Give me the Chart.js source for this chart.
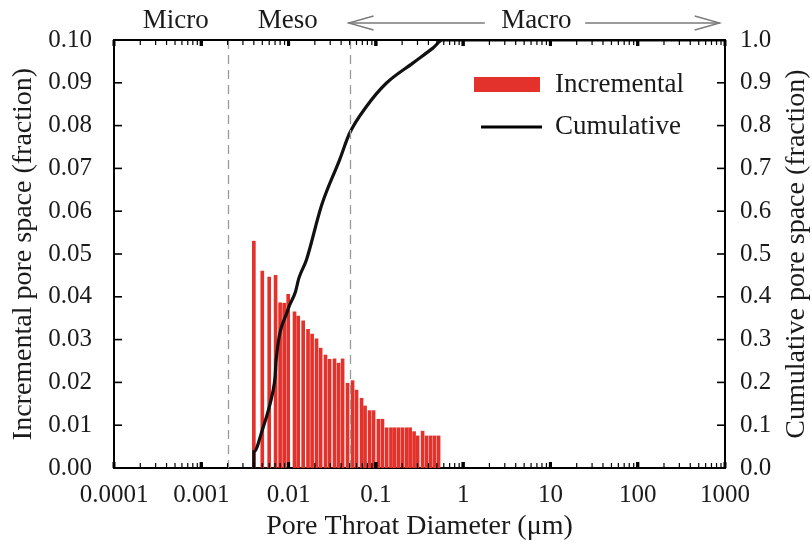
<!DOCTYPE html>
<html><head><meta charset="utf-8">
<script src="https://cdn.jsdelivr.net/npm/chart.js@4"></script>
<style>html,body{margin:0;padding:0;background:#fff;}canvas{display:block;}</style>
</head><body>
<canvas id="c" width="812" height="548"></canvas>
<script>
// ---- data ----
const barDiameters = [0.0040,0.0050,0.0060,0.0071,0.0080,0.0089,0.0099,0.0117,0.0129,0.0147,0.0167,0.0186,0.0209,0.0233,0.0265,0.0295,0.0336,0.0374,0.0416,0.0474,0.0541,0.0601,0.0686,0.0752,0.0847,0.0942,0.107,0.119,0.133,0.149,0.164,0.182,0.202,0.225,0.247,0.274,0.301,0.343,0.381,0.424,0.470,0.523];
const incrementalValues = [0.053,0.046,0.0446,0.045,0.0386,0.0385,0.0406,0.0365,0.0355,0.0344,0.0324,0.0313,0.0302,0.028,0.0264,0.0254,0.0255,0.0245,0.0255,0.0198,0.0204,0.0182,0.0163,0.0145,0.0134,0.0134,0.0114,0.0114,0.0094,0.0094,0.0094,0.0094,0.0094,0.0094,0.0094,0.0085,0.0075,0.0086,0.0075,0.0075,0.0075,0.0075];
const cumulativeDiameters = [0.0040,0.0040,0.0050,0.0066,0.0070,0.0072,0.0098,0.0120,0.0131,0.0160,0.0239,0.0384,0.050,0.0776,0.1315,0.265,0.450,0.585,1000];
const cumulativeValues = [0,0.038,0.089,0.178,0.212,0.252,0.369,0.412,0.443,0.486,0.614,0.72,0.782,0.844,0.899,0.946,0.981,1.0,1.0];
const xTickValues = [0.0001,0.001,0.01,0.1,1,10,100,1000];
const xTickLabels = ['0.0001','0.001','0.01','0.1','1','10','100','1000'];
const leftTickValues = [0,0.01,0.02,0.03,0.04,0.05,0.06,0.07,0.08,0.09,0.10];
const leftTickLabels = ['0.00','0.01','0.02','0.03','0.04','0.05','0.06','0.07','0.08','0.09','0.10'];
const rightTickValues = [0,0.1,0.2,0.3,0.4,0.5,0.6,0.7,0.8,0.9,1.0];
const rightTickLabels = ['0.0','0.1','0.2','0.3','0.4','0.5','0.6','0.7','0.8','0.9','1.0'];
const poreClassBounds = [0.002, 0.05];
const poreClassLabels = ['Micro','Meso','Macro'];
const poreClassLabelAt = [0.00051, 0.0098, 6.9];
const seriesNames = ['Incremental','Cumulative'];
const xTitle = 'Pore Throat Diameter (\u03bcm)';
const yTitle = 'Incremental pore space (fraction)';
const y2Title = 'Cumulative pore space (fraction)';

// ---- styles ----
const FONT = '"Liberation Serif","Times New Roman",serif';
const RED = '#e3322b';
const INK = '#1a1a1a';

const decor = {
  id: 'decor',
  afterDatasetsDraw(chart) {
    const {ctx, chartArea: a, scales: {x, y, y2}} = chart;
    ctx.save();
    // dashed boundaries
    ctx.strokeStyle = '#9a9a9a'; ctx.lineWidth = 1.3; ctx.setLineDash([9,6]);
    poreClassBounds.forEach(b => {
      const px = Math.round(x.getPixelForValue(b)) + 0.5;
      ctx.beginPath(); ctx.moveTo(px, a.top); ctx.lineTo(px, a.bottom); ctx.stroke();
    });
    ctx.setLineDash([]);
    ctx.restore();
  },
  afterDraw(chart) {
    const {ctx, chartArea: a, scales: {x, y, y2}} = chart;
    ctx.save();
    // top frame line
    ctx.strokeStyle = '#000'; ctx.lineWidth = 2;
    ctx.beginPath(); ctx.moveTo(a.left - 1, a.top); ctx.lineTo(a.right + 1, a.top); ctx.stroke();
    // log ticks top & bottom
    for (let d = -4; d < 3; d++) {
      for (let k = 1; k <= 10; k++) {
        const v = k * Math.pow(10, d);
        const px = x.getPixelForValue(v);
        const major = (k === 1 || k === 10);
        ctx.lineWidth = major ? 3 : 1.2;
        const len = major ? 6 : 5;
        ctx.beginPath(); ctx.moveTo(px, a.bottom); ctx.lineTo(px, a.bottom - len); ctx.stroke();
        ctx.beginPath(); ctx.moveTo(px, a.top); ctx.lineTo(px, a.top + len); ctx.stroke();
      }
    }
    // y ticks
    ctx.lineWidth = 1.6;
    leftTickValues.forEach(v => {
      const py = y.getPixelForValue(v);
      ctx.beginPath(); ctx.moveTo(a.left, py); ctx.lineTo(a.left + 8, py); ctx.stroke();
    });
    rightTickValues.forEach(v => {
      const py = y2.getPixelForValue(v);
      ctx.beginPath(); ctx.moveTo(a.right, py); ctx.lineTo(a.right - 8, py); ctx.stroke();
    });
    // pore class labels & arrows
    ctx.fillStyle = INK;
    ctx.font = '27px ' + FONT;
    ctx.textAlign = 'center'; ctx.textBaseline = 'alphabetic';
    poreClassLabels.forEach((t, i) => ctx.fillText(t, x.getPixelForValue(poreClassLabelAt[i]), 28));
    ctx.strokeStyle = '#7a7a7a'; ctx.lineWidth = 1.3;
    const arrow = (x1, x2, yy) => {
      const dir = Math.sign(x2 - x1);
      ctx.beginPath(); ctx.moveTo(x1, yy); ctx.lineTo(x2, yy); ctx.stroke();
      ctx.beginPath();
      ctx.moveTo(x2 - dir * 25, yy - 7); ctx.lineTo(x2, yy); ctx.lineTo(x2 - dir * 25, yy + 7);
      ctx.stroke();
    };
    arrow(x.getPixelForValue(1.77), x.getPixelForValue(poreClassBounds[1]) - 1, 23);
    arrow(x.getPixelForValue(25), x.getPixelForValue(870), 23);
    // legend
    ctx.fillStyle = RED;
    ctx.fillRect(474, 77, 66, 15);
    ctx.strokeStyle = '#000'; ctx.lineWidth = 3.2;
    ctx.beginPath(); ctx.moveTo(481, 127); ctx.lineTo(542, 127); ctx.stroke();
    ctx.fillStyle = INK; ctx.font = '27px ' + FONT;
    ctx.textAlign = 'left'; ctx.textBaseline = 'middle';
    ctx.fillText(seriesNames[0], 555, 85);
    ctx.fillText(seriesNames[1], 555, 127);
    // right title (reads bottom to top)
    ctx.save();
    ctx.translate(797, (a.top + a.bottom) / 2);
    ctx.rotate(-Math.PI / 2);
    ctx.textAlign = 'center'; ctx.textBaseline = 'middle';
    ctx.font = '28px ' + FONT;
    ctx.fillText(y2Title, 0, 0);
    ctx.restore();
    ctx.restore();
  }
};

new Chart(document.getElementById('c'), {
  type: 'bar',
  data: {
    datasets: [
      {
        type: 'line', label: seriesNames[1], yAxisID: 'y2', order: 0,
        data: cumulativeDiameters.map((d, i) => ({x: d, y: cumulativeValues[i]})),
        borderColor: '#111', borderWidth: 3.2, pointRadius: 0, tension: 0,
        cubicInterpolationMode: 'monotone', fill: false
      },
      {
        type: 'bar', label: seriesNames[0], yAxisID: 'y', order: 1,
        data: barDiameters.map((d, i) => ({x: d, y: incrementalValues[i]})),
        backgroundColor: RED, borderWidth: 0, barThickness: 3
      }
    ]
  },
  options: {
    responsive: false, animation: false, devicePixelRatio: 1,
    layout: {padding: {top: 40, left: 0, right: 0, bottom: 0}},
    plugins: {legend: {display: false}, tooltip: {enabled: false}},
    scales: {
      x: {
        type: 'logarithmic', position: 'bottom', min: 0.0001, max: 1000, offset: false,
        grid: {display: false, drawTicks: false},
        border: {display: true, color: '#000', width: 2},
        afterBuildTicks: s => { s.ticks = xTickValues.map(v => ({value: v, major: true})); },
        afterFit: s => { s.height = 80; },
        ticks: {
          autoSkip: false, maxRotation: 0, padding: 12, color: INK,
          font: {family: FONT, size: 25},
          callback: v => { const i = xTickValues.indexOf(v); return i >= 0 ? xTickLabels[i] : ''; }
        },
        title: {display: true, text: xTitle, color: INK, font: {family: FONT, size: 28}, padding: {top: 0, bottom: 5}}
      },
      y: {
        type: 'linear', position: 'left', min: 0, max: 0.1,
        grid: {display: false, drawTicks: false},
        border: {display: true, color: '#000', width: 2},
        afterBuildTicks: s => { s.ticks = leftTickValues.map(v => ({value: v})); },
        afterFit: s => { s.width = 114; },
        ticks: {
          padding: 22, color: INK, font: {family: FONT, size: 25},
          callback: (v) => { const i = leftTickValues.findIndex(t => Math.abs(t - v) < 1e-9); return i >= 0 ? leftTickLabels[i] : ''; }
        },
        title: {display: true, text: yTitle, color: INK, font: {family: FONT, size: 28}, padding: {top: 7, bottom: 0}}
      },
      y2: {
        type: 'linear', position: 'right', min: 0, max: 1,
        grid: {display: false, drawTicks: false},
        border: {display: true, color: '#000', width: 2},
        afterBuildTicks: s => { s.ticks = rightTickValues.map(v => ({value: v})); },
        afterFit: s => { s.width = 87; },
        ticks: {
          padding: 15, color: INK, font: {family: FONT, size: 25},
          callback: (v) => { const i = rightTickValues.findIndex(t => Math.abs(t - v) < 1e-9); return i >= 0 ? rightTickLabels[i] : ''; }
        }
      }
    }
  },
  plugins: [decor]
});
</script>
</body></html>
